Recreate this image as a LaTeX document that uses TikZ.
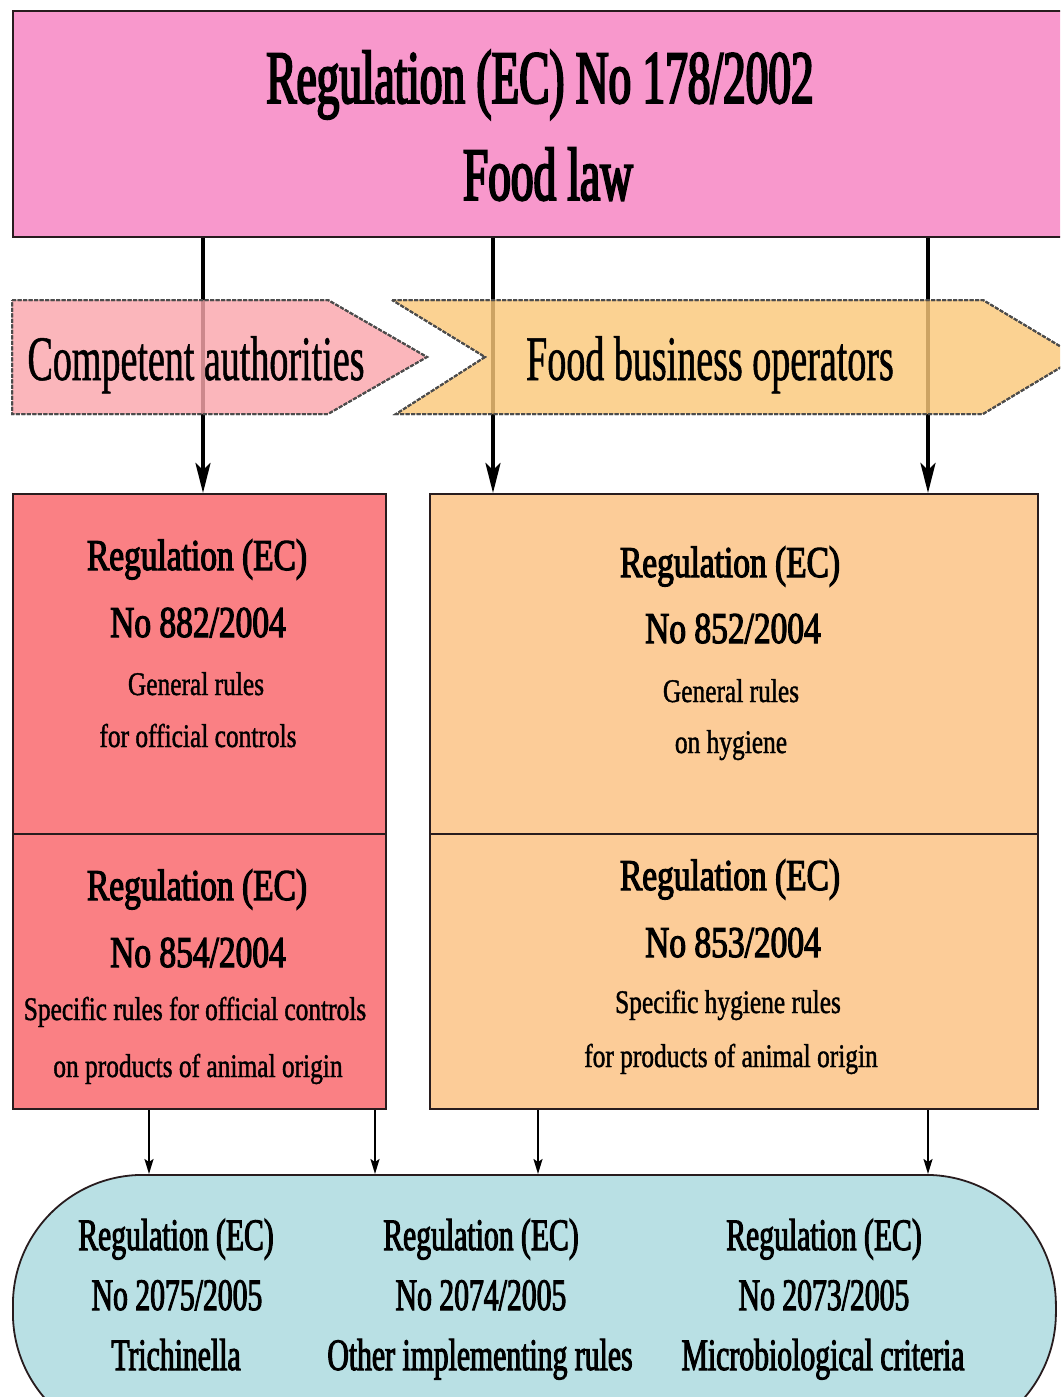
\documentclass[tikz,border=0pt]{standalone}
\usepackage{fontspec}
\setmainfont{Liberation Serif}
\newfontfamily\ftitle[FakeStretch=0.6,FakeBold=2.6]{Liberation Serif}
\newfontfamily\fchev[FakeStretch=0.6,FakeBold=0.8]{Liberation Serif}
\newfontfamily\fhead[FakeStretch=0.76,FakeBold=2.6]{Liberation Serif}
\newfontfamily\fsub[FakeStretch=0.77,FakeBold=1.2]{Liberation Serif}
\newfontfamily\fbot[FakeStretch=0.66,FakeBold=2.2]{Liberation Serif}
\usetikzlibrary{arrows.meta}

\definecolor{lawpink}{RGB}{248,152,204}
\definecolor{capink}{RGB}{250,166,172}
\definecolor{fboorange}{RGB}{250,200,122}
\definecolor{ctrlred}{RGB}{250,128,132}
\definecolor{hygpeach}{RGB}{252,204,152}
\definecolor{implblue}{RGB}{185,224,228}
\definecolor{edge}{RGB}{40,28,30}

\tikzset{
  regbox/.style={draw=edge, line width=2.2pt, anchor=north west, inner sep=0pt},
  chevron/.style={draw=black!70, line width=2pt, dash pattern=on 4pt off 1.5pt, fill opacity=0.82},
  bigarrow/.style={line width=4pt, -{Stealth[length=30pt,width=15pt,inset=7pt]}},
  smallarrow/.style={line width=2pt, -{Stealth[length=15pt,width=9pt,inset=3pt]}},
  txt/.style={anchor=base, inner sep=0pt, text=black},
  titletxt/.style={txt, font=\ftitle\fontsize{75.5}{80}\selectfont},
  chevtxt/.style={txt, font=\fchev\fontsize{63.4}{66}\selectfont},
  headtxt/.style={txt, font=\fhead\fontsize{44}{46}\selectfont},
  subtxt/.style={txt, font=\fsub\fontsize{33}{35}\selectfont},
  bottxt/.style={txt, font=\fbot\fontsize{45}{47}\selectfont},
}

\begin{document}
\begin{tikzpicture}[x=1pt,y=-1pt]
\useasboundingbox (0,0) rectangle (1060,1397);
\clip (0,0) rectangle (1060,1397);

% framework regulation
\node[regbox, fill=lawpink, minimum width=1063pt, minimum height=226pt] (law) at (12,10) {};
\node[titletxt] (lawA) at (540,103) {Regulation (EC) No 178/2002};
\node[titletxt] (lawB) at (548,200) {Food law};

% hygiene package boxes
\node[regbox, fill=ctrlred, minimum width=373pt, minimum height=340pt] (ofc) at (12,493) {};
\node[regbox, fill=ctrlred, minimum width=373pt, minimum height=275pt] (spc) at (12,833) {};
\node[regbox, fill=hygpeach, minimum width=608pt, minimum height=340pt] (hyg) at (429,493) {};
\node[regbox, fill=hygpeach, minimum width=608pt, minimum height=275pt] (shy) at (429,833) {};

% implementing rules
\node[draw=edge, line width=1.8pt, fill=implblue, rounded corners=130pt,
      minimum width=1043pt, minimum height=268pt, anchor=north west, inner sep=0pt] (impl) at (12,1174) {};

% arrows from the food law
\coordinate (xa) at (203,0);
\coordinate (xb) at (493,0);
\coordinate (xc) at (928,0);
\draw[bigarrow] (xa |- law.south) -- (xa |- ofc.north);
\draw[bigarrow] (xb |- law.south) -- (xb |- hyg.north);
\draw[bigarrow] (xc |- law.south) -- (xc |- hyg.north);

% addressee bands
\fill[capink, chevron] (12,300) -- (328,300) -- (427,357) -- (328,414) -- (12,414) -- cycle;
\fill[fboorange, chevron] (392,300) -- (983,300) -- (1078,357) -- (983,414) -- (396,414) -- (485,357) -- cycle;
\draw[chevron] (12,300) -- (328,300) -- (427,357) -- (328,414) -- (12,414) -- cycle;
\draw[chevron] (392,300) -- (983,300) -- (1078,357) -- (983,414) -- (396,414) -- (485,357) -- cycle;
\node[chevtxt] (ca) at (196,380) {Competent authorities};
\node[chevtxt] (fbo) at (710,380) {Food business operators};

% box texts
\node[headtxt] (ofcA) at (197,570) {Regulation (EC)};
\node[headtxt] (ofcB) at (198,637) {No 882/2004};
\node[subtxt]  (ofcC) at (196,695) {General rules};
\node[subtxt]  (ofcD) at (198,747) {for official controls};

\node[headtxt] (hygA) at (730,577) {Regulation (EC)};
\node[headtxt] (hygB) at (733,643) {No 852/2004};
\node[subtxt]  (hygC) at (731,702) {General rules};
\node[subtxt]  (hygD) at (731,753) {on hygiene};

\node[headtxt] (spcA) at (197,900) {Regulation (EC)};
\node[headtxt] (spcB) at (198,967) {No 854/2004};
\node[subtxt]  (spcC) at (195,1020) {Specific rules for official controls};
\node[subtxt]  (spcD) at (198,1077) {on products of animal origin};

\node[headtxt] (shyA) at (730,890) {Regulation (EC)};
\node[headtxt] (shyB) at (733,957) {No 853/2004};
\node[subtxt]  (shyC) at (728,1013) {Specific hygiene rules};
\node[subtxt]  (shyD) at (731,1067) {for products of animal origin};

% arrows down to the implementing rules
\coordinate (xd) at (149,0);
\coordinate (xe) at (375,0);
\coordinate (xf) at (538,0);
\coordinate (xg) at (928,0);
\draw[smallarrow] (xd |- spc.south) -- (xd |- impl.north);
\draw[smallarrow] (xe |- spc.south) -- (xe |- impl.north);
\draw[smallarrow] (xf |- shy.south) -- (xf |- impl.north);
\draw[smallarrow] (xg |- shy.south) -- (xg |- impl.north);

% implementing regulation texts
\node[bottxt] (trA) at (176,1250) {Regulation (EC)};
\node[bottxt] (trB) at (177,1310) {No 2075/2005};
\node[bottxt] (trC) at (176,1370) {Trichinella};
\node[bottxt] (oiA) at (481,1250) {Regulation (EC)};
\node[bottxt] (oiB) at (481,1310) {No 2074/2005};
\node[bottxt] (oiC) at (480,1370) {Other implementing rules};
\node[bottxt] (mcA) at (824,1250) {Regulation (EC)};
\node[bottxt] (mcB) at (824,1310) {No 2073/2005};
\node[bottxt] (mcC) at (823,1370) {Microbiological criteria};
\end{tikzpicture}
\end{document}
